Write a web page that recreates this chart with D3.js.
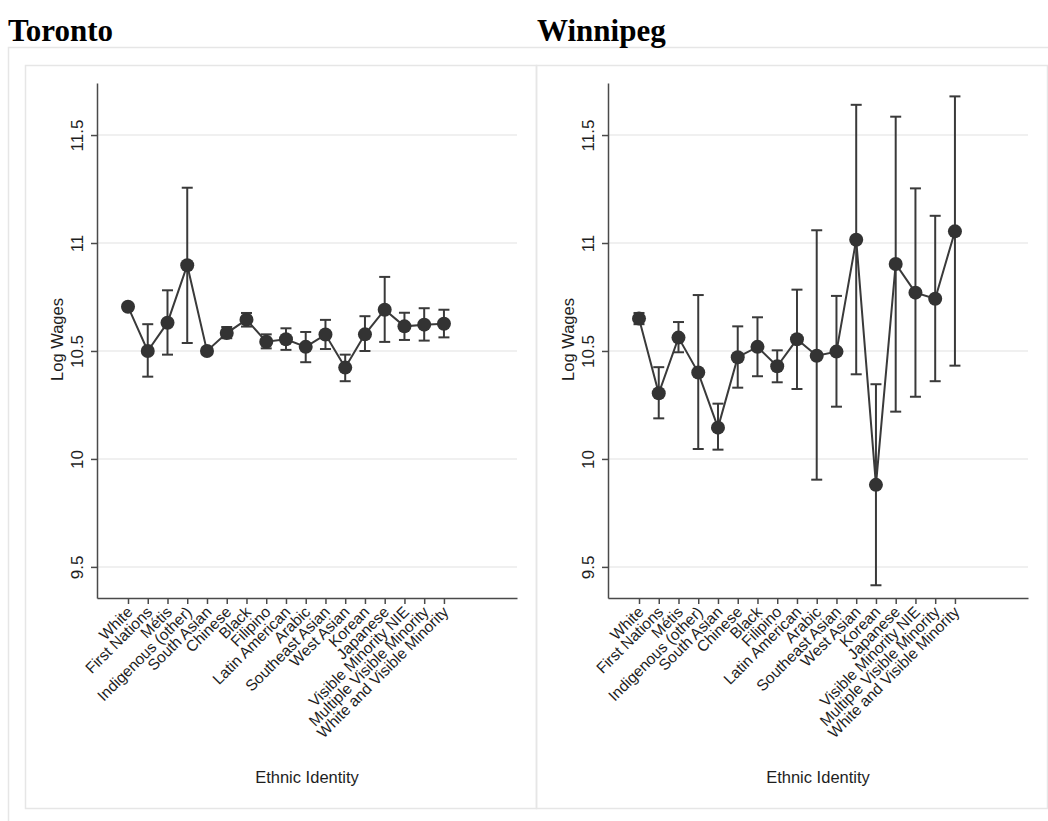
<!DOCTYPE html>
<html>
<head>
<meta charset="utf-8">
<script src="https://cdn.jsdelivr.net/npm/d3@7"></script>
<style>
  body { margin: 0; background: #fff; }
  .tick text, .axis-title { font-family: "Liberation Sans", Arial, sans-serif; font-size: 16.5px; fill: #1e1e1e; }
  .x-tick text { font-size: 15.5px; }
  .y-tick text { font-size: 17px; }
  .city { font-family: "Liberation Serif", "Times New Roman", serif; font-weight: bold; font-size: 31px; fill: #000; }
</style>
</head>
<body>
<div id="chart"></div>
<script>
// categories on the x axis
const categories = [
  "White", "First Nations", "Métis", "Indigenous (other)", "South Asian",
  "Chinese", "Black", "Filipino", "Latin American", "Arabic",
  "Southeast Asian", "West Asian", "Korean", "Japanese",
  "Visible Minority NIE", "Multiple Visible Minority", "White and Visible Minority"
];

// Toronto: mean log wage and 95% interval
const torontoMean = [10.705, 10.50, 10.631, 10.897, 10.50, 10.583, 10.645, 10.543, 10.554, 10.519, 10.576, 10.423, 10.577, 10.691, 10.614, 10.622, 10.626];
const torontoLow  = [10.692, 10.381, 10.483, 10.537, 10.485, 10.559, 10.613, 10.512, 10.505, 10.448, 10.509, 10.360, 10.500, 10.542, 10.551, 10.548, 10.563];
const torontoHigh = [10.718, 10.624, 10.781, 11.256, 10.515, 10.611, 10.676, 10.577, 10.605, 10.588, 10.644, 10.483, 10.661, 10.843, 10.677, 10.698, 10.691];

// Winnipeg
const winnipegMean = [10.650, 10.304, 10.562, 10.400, 10.145, 10.471, 10.519, 10.429, 10.554, 10.478, 10.497, 11.015, 9.880, 10.903, 10.770, 10.742, 11.054];
const winnipegLow  = [10.624, 10.188, 10.494, 10.046, 10.043, 10.330, 10.383, 10.355, 10.324, 9.904, 10.242, 10.392, 9.415, 10.219, 10.288, 10.360, 10.432];
const winnipegHigh = [10.676, 10.425, 10.634, 10.759, 10.256, 10.614, 10.656, 10.503, 10.784, 11.059, 10.755, 11.640, 10.346, 11.585, 11.253, 11.126, 11.679];

const yTicks = [9.5, 10, 10.5, 11, 11.5];

const width = 1048, height = 821;
const svg = d3.select("#chart").append("svg")
  .attr("width", width).attr("height", height);

// outer frame
const frame = "#e6e6e6";
svg.append("path")
  .attr("d", `M8.5,${height} V47.5 H${width}`)
  .attr("fill", "none").attr("stroke", frame).attr("stroke-width", 1.5);

// panel geometry
const panelW = 511;
const plot = { left: 72, top: 83, w: 420, h: 515 }; // relative to panel left

const x = d3.scaleLinear().domain([-1.57, 19.7]).range([0, plot.w]);
const y = d3.scaleLinear().domain([9.356, 11.741]).range([plot.h, 0]);

const ink = "#3a3a3a";

function drawPanel(px, titleX, title, mean, low, high) {
  svg.append("text").attr("class", "city")
    .attr("x", titleX).attr("y", 41).text(title);

  svg.append("rect")
    .attr("x", px + 0.5).attr("y", 65.5)
    .attr("width", panelW).attr("height", 743)
    .attr("fill", "none").attr("stroke", frame).attr("stroke-width", 1.5);

  const g = svg.append("g")
    .attr("transform", `translate(${px + plot.left},${plot.top})`);

  // gridlines
  g.selectAll(".grid").data(yTicks).enter().append("line")
    .attr("x1", 0).attr("x2", plot.w)
    .attr("y1", d => y(d)).attr("y2", d => y(d))
    .attr("stroke", "#ebebeb").attr("stroke-width", 1.5);

  // y axis
  const yAxis = g.append("g").attr("class", "y-tick")
    .call(d3.axisLeft(y).tickValues(yTicks).tickSize(6).tickSizeOuter(0).tickFormat(d => d));
  yAxis.selectAll("text")
    .attr("transform", "rotate(-90)")
    .attr("x", 0).attr("y", -14).attr("dy", 0)
    .attr("text-anchor", "middle");

  // x axis
  const xAxis = g.append("g").attr("class", "x-tick")
    .attr("transform", `translate(0,${plot.h})`)
    .call(d3.axisBottom(x).tickValues(d3.range(categories.length)).tickSize(6).tickSizeOuter(0).tickFormat(i => categories[i]));
  xAxis.selectAll("text")
    .attr("y", 0).attr("dy", 0)
    .attr("transform", "translate(5,15) rotate(-45)")
    .attr("text-anchor", "end");

  [yAxis, xAxis].forEach(a => {
    a.select(".domain").attr("stroke", "#4a4a4a").attr("stroke-width", 1.5);
    a.selectAll(".tick line").attr("stroke", "#4a4a4a").attr("stroke-width", 1.5);
  });

  // axis titles
  g.append("text").attr("class", "axis-title")
    .attr("transform", `translate(-34,${plot.h / 2 - 1}) rotate(-90)`)
    .attr("text-anchor", "middle").text("Log Wages");
  g.append("text").attr("class", "axis-title")
    .attr("x", plot.w / 2).attr("y", 700)
    .attr("text-anchor", "middle").text("Ethnic Identity");

  const idx = d3.range(categories.length);

  // error bars
  const bars = g.selectAll(".err").data(idx).enter().append("g")
    .attr("stroke", ink).attr("stroke-width", 2);
  bars.append("line")
    .attr("x1", i => x(i)).attr("x2", i => x(i))
    .attr("y1", i => y(low[i])).attr("y2", i => y(high[i]));
  bars.append("line")
    .attr("x1", i => x(i) - 5.5).attr("x2", i => x(i) + 5.5)
    .attr("y1", i => y(low[i])).attr("y2", i => y(low[i]));
  bars.append("line")
    .attr("x1", i => x(i) - 5.5).attr("x2", i => x(i) + 5.5)
    .attr("y1", i => y(high[i])).attr("y2", i => y(high[i]));

  // connecting line
  g.append("path")
    .datum(idx)
    .attr("d", d3.line().x(i => x(i)).y(i => y(mean[i])))
    .attr("fill", "none").attr("stroke", ink).attr("stroke-width", 2);

  // markers
  g.selectAll(".pt").data(idx).enter().append("circle")
    .attr("cx", i => x(i)).attr("cy", i => y(mean[i]))
    .attr("r", 7).attr("fill", "#333");
}

drawPanel(25, 8, "Toronto", torontoMean, torontoLow, torontoHigh);
drawPanel(25 + panelW, 537, "Winnipeg", winnipegMean, winnipegLow, winnipegHigh);
</script>
</body>
</html>
